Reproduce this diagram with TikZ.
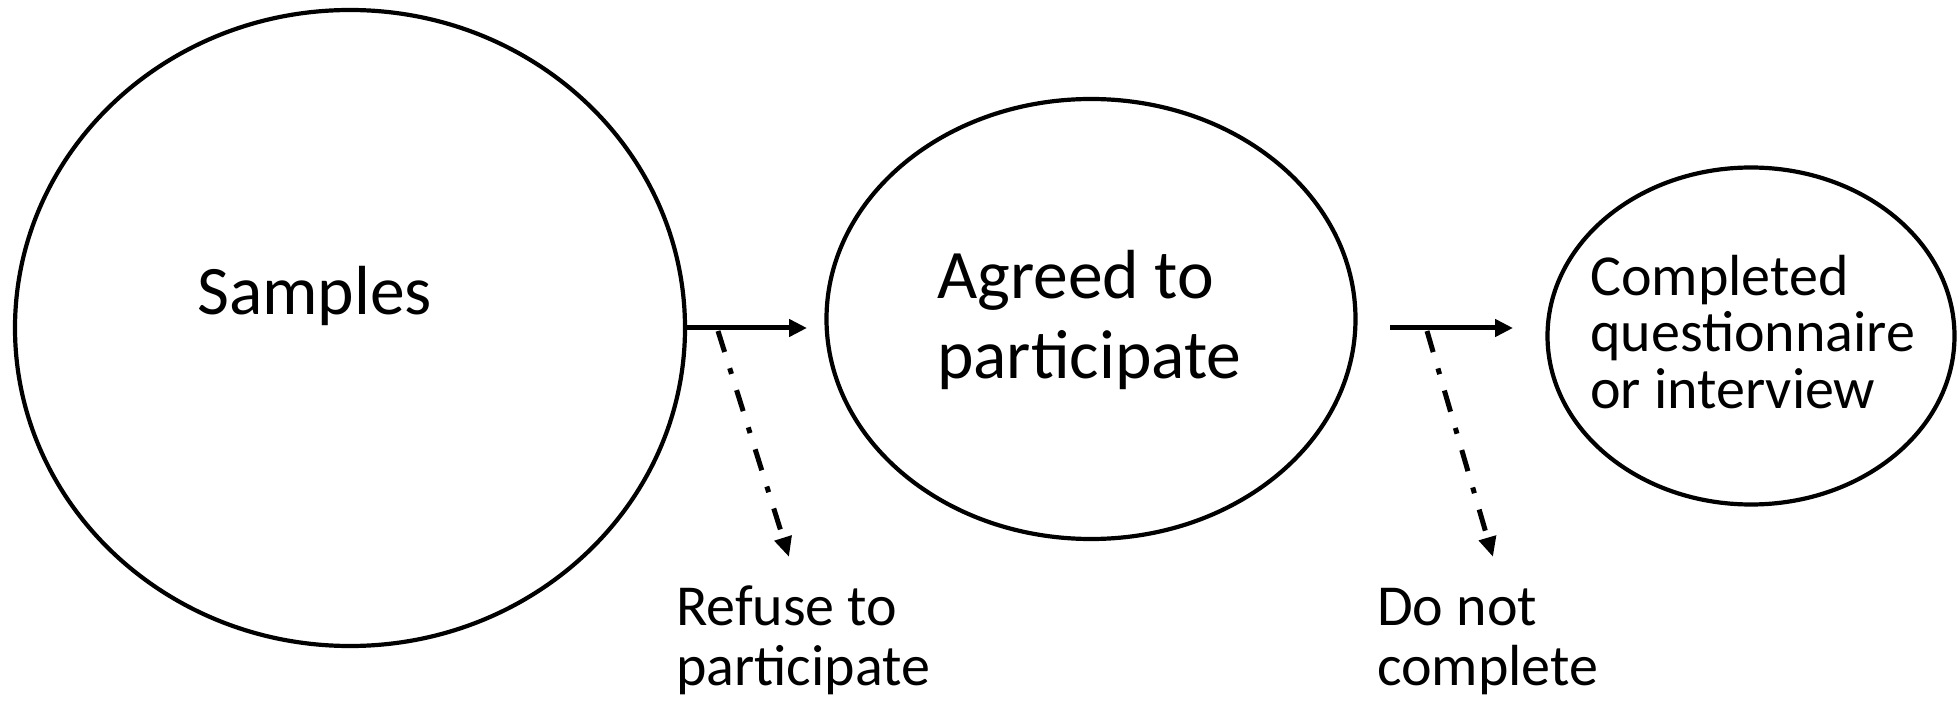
\documentclass[tikz,border=0pt]{standalone}
\usepackage{fontspec}
\setmainfont{Carlito}
\usetikzlibrary{shapes.geometric,arrows.meta}
\tikzset{
  ell/.style={draw, ellipse, line width=4.2pt, inner sep=0pt},
  flow/.style={line width=5pt, -{Triangle[length=18pt,width=17pt]}},
  drop/.style={line width=5pt, dash pattern=on 22pt off 17pt on 6pt off 17pt, -{Triangle[length=20pt,width=17pt]}},
  big/.style={font=\fontsize{69.5}{80}\selectfont, inner sep=0pt, align=left, anchor=base west},
  small/.style={font=\fontsize{58}{56.5}\selectfont, inner sep=0pt, align=left, anchor=base west},
  lbl/.style={font=\fontsize{58}{60}\selectfont, inner sep=0pt, align=left, anchor=base west}
}
\begin{document}
\begin{tikzpicture}[x=1pt,y=-1pt]
\useasboundingbox (0,0) rectangle (1959,708);
\node[ell, minimum width=670pt, minimum height=636pt] (samp) at (350,328) {};
\node[ell, minimum width=529pt, minimum height=440pt] (agree) at (1091,319) {};
\node[ell, minimum width=407pt, minimum height=337pt] (comp) at (1751,336) {};
\node[big] (tsamp) at (197,315) {Samples};
\node[big] (tagree) at (937,378) {Agreed to\\participate};
\node[small] (tcomp) at (1590,408) {Completed\\questionnaire\\or interview};
\node[lbl] (trefuse) at (676,685) {Refuse to\\participate};
\node[lbl] (tdonot) at (1377,685) {Do not\\complete};
\coordinate (a1end) at (807,328);
\coordinate (a2start) at (1390,328);
\coordinate (a2end) at (1513,328);
\coordinate (d1start) at (718,331);
\coordinate (d1end) at (789,557);
\coordinate (d2start) at (1427,331);
\coordinate (d2end) at (1493,557);
\draw[flow] (samp.east) -- (a1end);
\draw[flow] (a2start) -- (a2end);
\draw[drop] (d1start) -- (d1end);
\draw[drop] (d2start) -- (d2end);
\end{tikzpicture}
\end{document}
